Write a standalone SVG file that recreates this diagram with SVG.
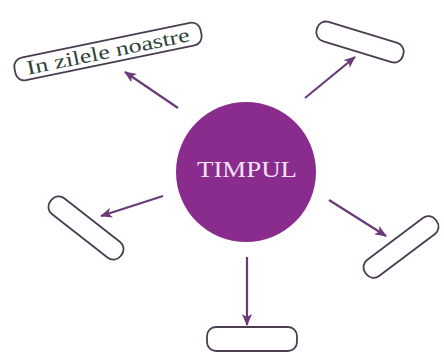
<svg xmlns="http://www.w3.org/2000/svg" width="444" height="354" viewBox="0 0 444 354">
<defs>
<style>
.box{fill:#ffffff;stroke:#4a3d50;stroke-width:1.8}
.conn{stroke:#6a3a78;stroke-width:2.2;fill:none}
.lbl{font-family:"Liberation Serif","Times New Roman",serif;fill:#2f4434}
.title{font-family:"Liberation Serif","Times New Roman",serif;fill:#f6e2f6;font-size:23px}
</style>
<marker id="ah" viewBox="0 0 12 10" refX="11" refY="5" markerWidth="12" markerHeight="10" markerUnits="userSpaceOnUse" orient="auto">
<path d="M0,0 L12,5 L0,10 L3,5 Z" fill="#6a3a78"/>
</marker>
</defs>
<rect width="444" height="354" fill="#ffffff"/>
<g id="connectors">
<line class="conn" x1="178" y1="108" x2="125" y2="72" marker-end="url(#ah)"/>
<line class="conn" x1="305" y1="98" x2="355" y2="57" marker-end="url(#ah)"/>
<line class="conn" x1="163" y1="196" x2="101" y2="216" marker-end="url(#ah)"/>
<line class="conn" x1="329" y1="200" x2="386" y2="236" marker-end="url(#ah)"/>
<line class="conn" x1="247" y1="257" x2="247" y2="325" marker-end="url(#ah)"/>
</g>
<g id="center">
<circle cx="246" cy="172" r="70" fill="#8a2c8e"/>
<text class="title" x="247" y="177" text-anchor="middle" textLength="100" lengthAdjust="spacingAndGlyphs">TIMPUL</text>
</g>
<g id="box-zilele" transform="translate(108,51.5) rotate(-11.7)">
<rect class="box" x="-95" y="-11.5" width="190" height="23" rx="9"/>
<text class="lbl" x="0" y="6.5" font-size="20" text-anchor="middle" textLength="166" lengthAdjust="spacingAndGlyphs">In zilele noastre</text>
</g>
<g id="box-topright" transform="translate(360,42) rotate(17)">
<rect class="box" x="-45" y="-10" width="90" height="20" rx="9"/>
</g>
<g id="box-left" transform="translate(86,228) rotate(38)">
<rect class="box" x="-44.5" y="-10" width="89" height="20" rx="9"/>
</g>
<g id="box-right" transform="translate(401,247) rotate(-37)">
<rect class="box" x="-44" y="-10" width="88" height="20" rx="9"/>
</g>
<g id="box-bottom">
<rect class="box" x="207" y="327" width="90" height="24" rx="9"/>
</g>
</svg>
